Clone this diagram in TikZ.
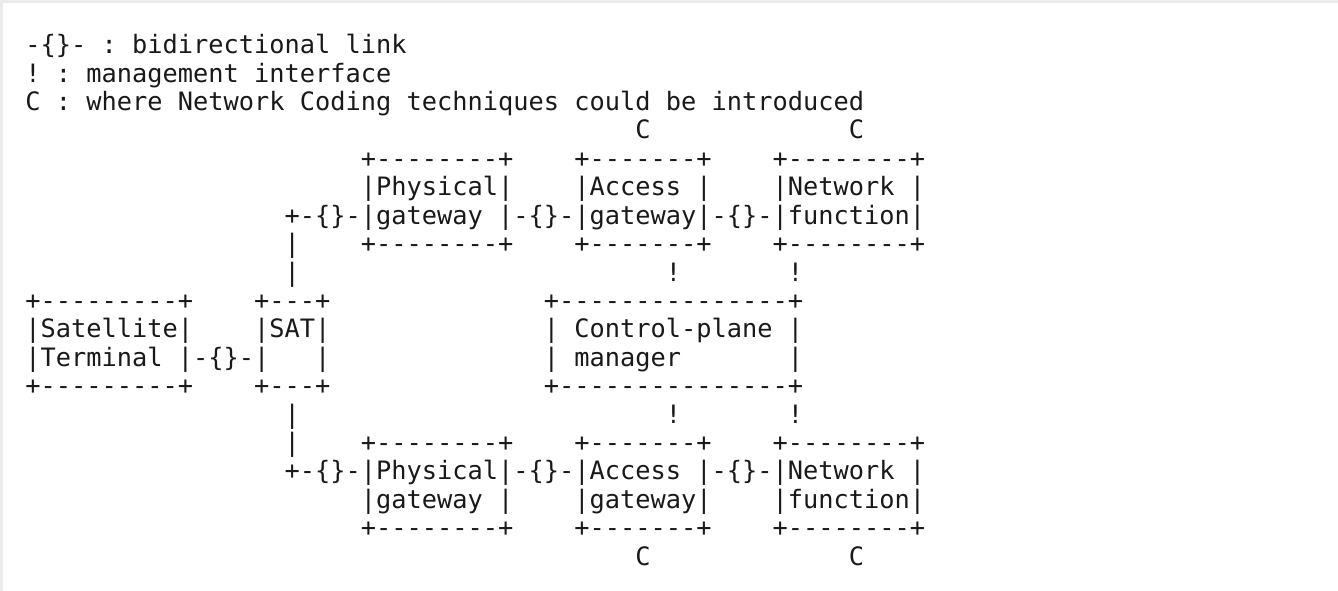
\documentclass[tikz,border=0pt]{standalone}
\usepackage{fontspec}
\setmonofont{DejaVu Sans Mono}
\tikzset{
  txt/.style={font=\ttfamily\fontsize{25.33}{28.4}\selectfont, inner sep=0pt, outer sep=0pt, anchor=base west, text=black!90},
  frame/.style={line width=3pt, draw=black!8}
}
\newcommand\asciiseg[3]{\node[txt] (r#1c#2) at ({25.4+15.25*#2},{53.8+28.4*#1}) {#3};}
\begin{document}
\begin{tikzpicture}[x=1pt,y=-1pt]
\useasboundingbox (0,0) rectangle (1338,591);
\draw[frame] (1.5,591) -- (1.5,1.5) -- (1338,1.5);
% legend
\asciiseg{0}{0}{-\{\}- : bidirectional link}
\asciiseg{1}{0}{! : management interface}
\asciiseg{2}{0}{C : where Network Coding techniques could be introduced}
% top row
\asciiseg{3}{40}{C}
\asciiseg{3}{54}{C}
\asciiseg{4}{22}{+--------+}
\asciiseg{4}{36}{+-------+}
\asciiseg{4}{49}{+--------+}
\asciiseg{5}{22}{|Physical|}
\asciiseg{5}{36}{|Access |}
\asciiseg{5}{49}{|Network |}
\asciiseg{6}{17}{+-\{\}-|gateway |-\{\}-|gateway|-\{\}-|function|}
\asciiseg{7}{17}{|}
\asciiseg{7}{22}{+--------+}
\asciiseg{7}{36}{+-------+}
\asciiseg{7}{49}{+--------+}
\asciiseg{8}{17}{|}
\asciiseg{8}{42}{!}
\asciiseg{8}{50}{!}
% middle row
\asciiseg{9}{0}{+---------+}
\asciiseg{9}{15}{+---+}
\asciiseg{9}{34}{+---------------+}
\asciiseg{10}{0}{|Satellite|}
\asciiseg{10}{15}{|SAT|}
\asciiseg{10}{34}{| Control-plane |}
\asciiseg{11}{0}{|Terminal |-\{\}-|}
\asciiseg{11}{19}{|}
\asciiseg{11}{34}{| manager}
\asciiseg{11}{50}{|}
\asciiseg{12}{0}{+---------+}
\asciiseg{12}{15}{+---+}
\asciiseg{12}{34}{+---------------+}
% bottom row
\asciiseg{13}{17}{|}
\asciiseg{13}{42}{!}
\asciiseg{13}{50}{!}
\asciiseg{14}{17}{|}
\asciiseg{14}{22}{+--------+}
\asciiseg{14}{36}{+-------+}
\asciiseg{14}{49}{+--------+}
\asciiseg{15}{17}{+-\{\}-|Physical|-\{\}-|Access |-\{\}-|Network |}
\asciiseg{16}{22}{|gateway |}
\asciiseg{16}{36}{|gateway|}
\asciiseg{16}{49}{|function|}
\asciiseg{17}{22}{+--------+}
\asciiseg{17}{36}{+-------+}
\asciiseg{17}{49}{+--------+}
\asciiseg{18}{40}{C}
\asciiseg{18}{54}{C}
\end{tikzpicture}
\end{document}
